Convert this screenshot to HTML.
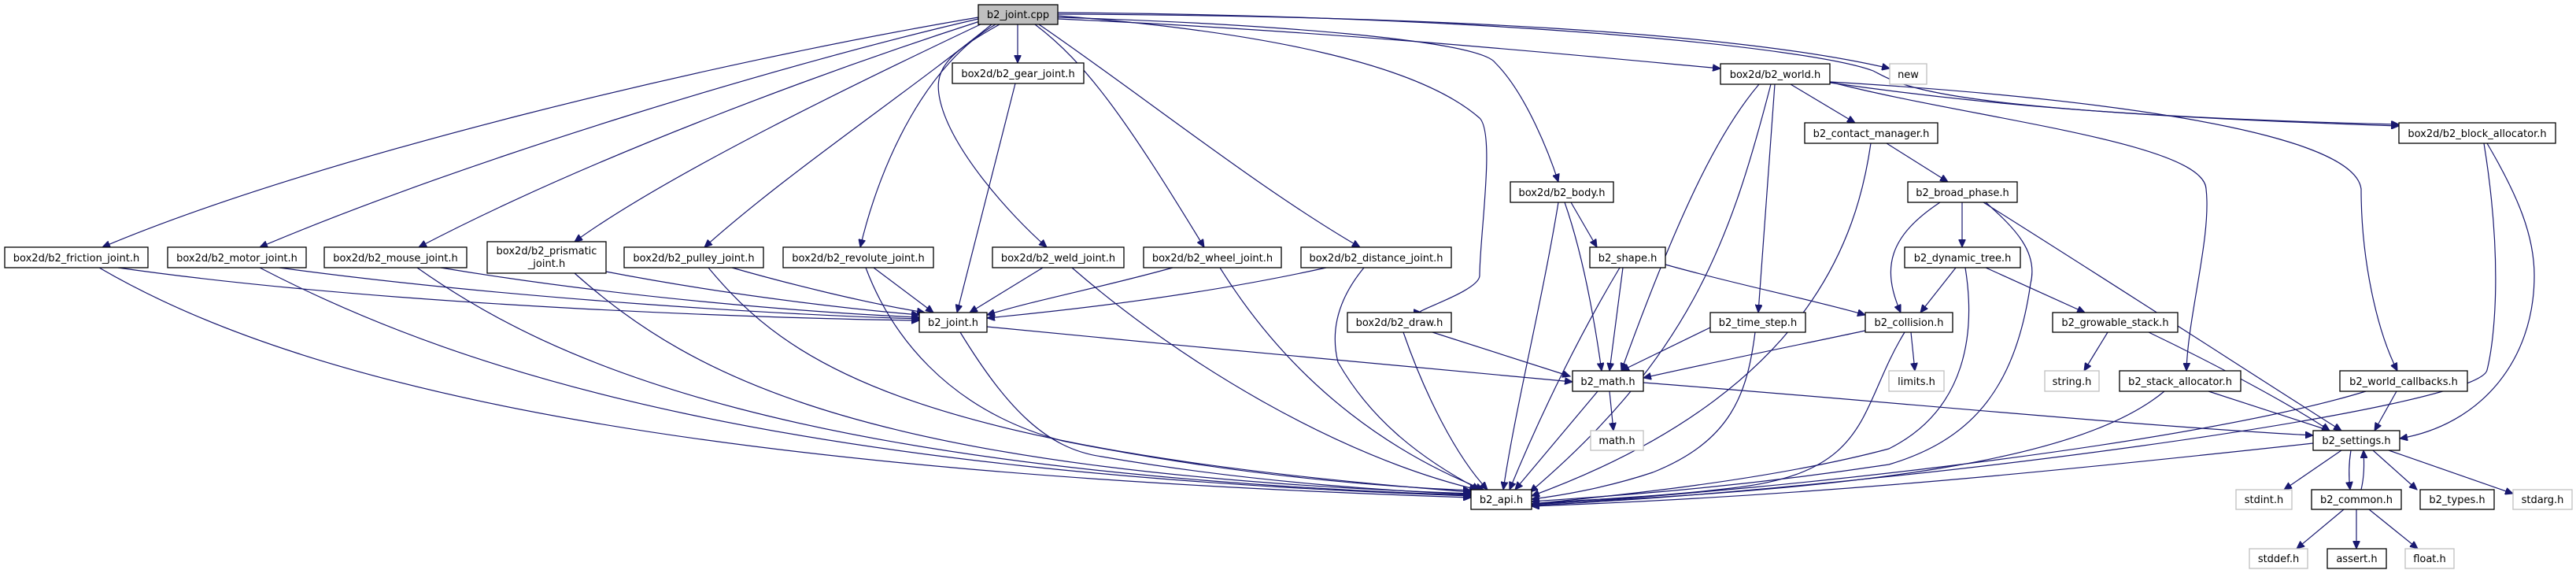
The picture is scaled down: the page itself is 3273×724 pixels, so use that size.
<!DOCTYPE html>
<html><head><meta charset="utf-8"><style>
html,body{margin:0;padding:0;background:#fff;}
svg{display:block;}
text{font-family:"DejaVu Sans","Liberation Sans",sans-serif;font-size:13px;fill:#000;}
.n{fill:#fff;stroke:#000;stroke-width:1.3;}
.g{fill:#fff;stroke:#bfbfbf;stroke-width:1.3;}
.e{fill:none;stroke:#191970;stroke-width:1.2;}
</style></head><body>
<svg width="3273" height="724" viewBox="0 0 3273 724" xmlns="http://www.w3.org/2000/svg">
<defs><marker id="a" markerUnits="userSpaceOnUse" markerWidth="11" markerHeight="9" refX="10" refY="4.5" orient="auto"><path d="M0,0 L10,4.5 L0,9 z" fill="#191970" stroke="#191970"/></marker></defs>
<g class="e" marker-end="url(#a)">
<!-- from cpp -->
<path d="M1243,22 C900,80 400,200 130,314"/>
<path d="M1243,24 C1000,80 600,200 330,314"/>
<path d="M1245,27 C1050,90 750,200 532,314"/>
<path d="M1250,29 C1100,100 850,220 730,307"/>
<path d="M1260,31 C1150,120 1000,220 895,314"/>
<path d="M1265,31 C1180,80 1120,200 1093,314"/>
<path d="M1293,31 L1293,80"/>
<path d="M1270,31 C1200,70 1185,90 1195,130 C1210,190 1280,270 1330,314"/>
<path d="M1315,31 C1380,80 1430,150 1530,314"/>
<path d="M1320,31 C1450,120 1600,240 1728,314"/>
<path d="M1344,20 C1600,40 1800,80 1880,150 C1900,170 1880,300 1880,350 C1880,370 1790,397 1806,397"/>
<path d="M1344,22 C1600,30 1880,50 1900,80 C1940,120 1970,200 1980,231"/>
<path d="M1344,24 C1700,40 2000,70 2186,87"/>
<path d="M1344,18 C1800,20 2200,40 2401,87"/>
<path d="M1344,16 C1900,20 2300,60 2380,90 C2420,110 2450,140 3048,160"/>
<!-- world -->
<path d="M2235,107 C2190,160 2140,250 2060,471"/>
<path d="M2250,107 C2200,300 2150,450 1944,625"/>
<path d="M2255,107 L2234,397"/>
<path d="M2275,107 L2357,156"/>
<path d="M2325,104 C2500,150 2800,180 2803,240 C2810,300 2780,400 2778,471"/>
<path d="M2325,104 C2600,120 2990,160 3000,240 C3000,330 3020,420 3046,471"/>
<path d="M2325,105 C2500,130 2700,150 3048,158"/>
<!-- contact -->
<path d="M2377,182 C2360,300 2300,500 1946,630"/>
<path d="M2397,182 L2475,231"/>
<!-- broad -->
<path d="M2493,257 L2493,314"/>
<path d="M2465,257 C2400,300 2390,340 2415,397"/>
<path d="M2523,257 C2560,290 2590,320 2580,360 C2560,500 2500,560 2400,590 C2200,620 2050,630 1946,637"/>
<path d="M2520,257 C2700,370 2900,500 2975,547"/>
<!-- dyntree -->
<path d="M2485,340 L2440,397"/>
<path d="M2523,340 L2649,397"/>
<path d="M2497,340 C2510,420 2500,520 2400,570 C2250,610 2050,630 1946,640"/>
<!-- collision -->
<path d="M2370,420 C2300,435 2200,455 2088,480"/>
<path d="M2428,422 L2433,471"/>
<path d="M2420,422 C2360,520 2380,600 2200,620 C2100,632 2000,635 1946,640"/>
<!-- growable -->
<path d="M2678,422 L2648,471"/>
<path d="M2730,422 C2830,470 2920,520 2960,547"/>
<!-- stack -->
<path d="M2750,497 C2650,580 2400,620 1946,640"/>
<path d="M2806,497 L2960,547"/>
<!-- callbacks -->
<path d="M3006,497 C2800,560 2300,620 1946,641"/>
<path d="M3045,497 L3017,547"/>
<!-- block -->
<path d="M3156,182 C3180,330 3170,430 3160,470 C3150,520 2400,620 1946,642"/>
<path d="M3160,182 C3200,250 3220,300 3220,350 C3220,460 3150,540 3049,557"/>
<!-- settings -->
<path d="M2939,563 C2600,600 2300,630 1946,643"/>
<path d="M2975,572 L2902,622"/>
<path d="M2987,572 C2984,590 2984,605 2986,622"/>
<path d="M3000,622 C3004,605 3004,590 3003,572"/>
<path d="M3015,572 L3071,622"/>
<path d="M3035,572 L3193,627"/>
<!-- common -->
<path d="M2978,647 L2918,697"/>
<path d="M2994,647 L2994,697"/>
<path d="M3010,647 L3072,697"/>
<!-- math -->
<path d="M2045,497 L2050,547"/>
<path d="M2030,497 L1925,622"/>
<path d="M2088,486 C2400,510 2700,540 2939,553"/>
<!-- shape -->
<path d="M2062,340 L2045,471"/>
<path d="M2058,340 C2010,420 1960,520 1918,622"/>
<path d="M2116,336 C2200,360 2300,380 2370,400"/>
<!-- body -->
<path d="M1996,257 L2029,314"/>
<path d="M1988,257 C2010,320 2025,400 2035,471"/>
<path d="M1980,257 C1960,380 1925,520 1910,622"/>
<!-- draw -->
<path d="M1820,422 L1995,478"/>
<path d="M1783,422 C1810,500 1850,580 1890,622"/>
<!-- time step -->
<path d="M2173,416 L2060,471"/>
<path d="M2230,422 C2220,500 2200,560 2100,600 C2040,620 1980,630 1946,634"/>
<!-- joint.h -->
<path d="M1254,415 C1500,440 1800,465 1998,485"/>
<path d="M1220,422 C1280,520 1330,570 1400,580 C1600,615 1800,625 1869,628"/>
<!-- joint headers -> joint.h -->
<path d="M150,340 C500,390 1000,405 1168,407"/>
<path d="M355,340 C650,380 1000,400 1168,405"/>
<path d="M560,340 C800,380 1050,398 1168,403"/>
<path d="M770,345 C900,370 1050,390 1168,400"/>
<path d="M930,340 C1000,360 1100,385 1175,397"/>
<path d="M1110,340 L1186,397"/>
<path d="M1325,340 L1232,397"/>
<path d="M1490,340 C1400,365 1320,380 1254,400"/>
<path d="M1685,340 C1550,370 1400,390 1254,404"/>
<path d="M1290,106 L1216,397"/>
<!-- joint headers -> api -->
<path d="M126,340 C400,500 900,600 1869,632"/>
<path d="M330,340 C600,480 1000,600 1869,630"/>
<path d="M530,340 C700,460 1000,600 1869,629"/>
<path d="M730,347 C880,480 1100,600 1869,627"/>
<path d="M900,340 C1000,460 1150,570 1869,625"/>
<path d="M1100,340 C1130,420 1200,520 1350,560 C1600,610 1800,620 1869,623"/>
<path d="M1362,340 C1500,460 1700,580 1877,622"/>
<path d="M1550,340 C1650,500 1780,580 1885,622"/>
<path d="M1733,340 C1700,380 1690,420 1700,460 C1740,530 1800,580 1880,622"/>
</g>
<!-- nodes -->
<rect x="1243" y="6" width="101" height="25" fill="#bfbfbf" stroke="#000" stroke-width="1.3"/>
<text x="1293.5" y="23" text-anchor="middle">b2_joint.cpp</text>
<g>
<rect class="n" x="1210" y="80" width="167" height="26"/><text x="1293.5" y="98" text-anchor="middle">box2d/b2_gear_joint.h</text>
<rect class="n" x="2186" y="81" width="139" height="26"/><text x="2255.5" y="99" text-anchor="middle">box2d/b2_world.h</text>
<rect class="g" x="2401" y="81" width="47" height="26"/><text x="2424.5" y="99" text-anchor="middle">new</text>
<rect class="n" x="2293" y="156" width="169" height="26"/><text x="2377.5" y="174" text-anchor="middle">b2_contact_manager.h</text>
<rect class="n" x="3048" y="156" width="199" height="26"/><text x="3147.5" y="174" text-anchor="middle">box2d/b2_block_allocator.h</text>
<rect class="n" x="1919" y="231" width="131" height="26"/><text x="1984.5" y="249" text-anchor="middle">box2d/b2_body.h</text>
<rect class="n" x="2424" y="231" width="139" height="26"/><text x="2493.5" y="249" text-anchor="middle">b2_broad_phase.h</text>
<rect class="n" x="6" y="314" width="182" height="26"/><text x="97" y="332" text-anchor="middle">box2d/b2_friction_joint.h</text>
<rect class="n" x="213" y="314" width="176" height="26"/><text x="301" y="332" text-anchor="middle">box2d/b2_motor_joint.h</text>
<rect class="n" x="412" y="314" width="181" height="26"/><text x="502.5" y="332" text-anchor="middle">box2d/b2_mouse_joint.h</text>
<rect class="n" x="619" y="307" width="151" height="40"/><text x="694.5" y="323" text-anchor="middle">box2d/b2_prismatic</text><text x="694.5" y="339" text-anchor="middle">_joint.h</text>
<rect class="n" x="793" y="314" width="177" height="26"/><text x="881.5" y="332" text-anchor="middle">box2d/b2_pulley_joint.h</text>
<rect class="n" x="995" y="314" width="191" height="26"/><text x="1090.5" y="332" text-anchor="middle">box2d/b2_revolute_joint.h</text>
<rect class="n" x="1261" y="314" width="167" height="26"/><text x="1344.5" y="332" text-anchor="middle">box2d/b2_weld_joint.h</text>
<rect class="n" x="1453" y="314" width="175" height="26"/><text x="1540.5" y="332" text-anchor="middle">box2d/b2_wheel_joint.h</text>
<rect class="n" x="1653" y="314" width="191" height="26"/><text x="1748.5" y="332" text-anchor="middle">box2d/b2_distance_joint.h</text>
<rect class="n" x="2020" y="314" width="96" height="26"/><text x="2068" y="332" text-anchor="middle">b2_shape.h</text>
<rect class="n" x="2420" y="314" width="147" height="26"/><text x="2493.5" y="332" text-anchor="middle">b2_dynamic_tree.h</text>
<rect class="n" x="1168" y="397" width="86" height="25"/><text x="1211" y="414" text-anchor="middle">b2_joint.h</text>
<rect class="n" x="1712" y="397" width="132" height="25"/><text x="1778" y="414" text-anchor="middle">box2d/b2_draw.h</text>
<rect class="n" x="2173" y="397" width="121" height="25"/><text x="2233.5" y="414" text-anchor="middle">b2_time_step.h</text>
<rect class="n" x="2370" y="397" width="111" height="25"/><text x="2425.5" y="414" text-anchor="middle">b2_collision.h</text>
<rect class="n" x="2608" y="397" width="159" height="25"/><text x="2687.5" y="414" text-anchor="middle">b2_growable_stack.h</text>
<rect class="n" x="1998" y="471" width="90" height="26"/><text x="2043" y="489" text-anchor="middle">b2_math.h</text>
<rect class="g" x="2400" y="471" width="70" height="26"/><text x="2435" y="489" text-anchor="middle">limits.h</text>
<rect class="g" x="2598" y="471" width="69" height="26"/><text x="2632.5" y="489" text-anchor="middle">string.h</text>
<rect class="n" x="2693" y="471" width="154" height="26"/><text x="2770" y="489" text-anchor="middle">b2_stack_allocator.h</text>
<rect class="n" x="2973" y="471" width="162" height="26"/><text x="3054" y="489" text-anchor="middle">b2_world_callbacks.h</text>
<rect class="g" x="2021" y="547" width="67" height="25"/><text x="2054.5" y="564" text-anchor="middle">math.h</text>
<rect class="n" x="2939" y="547" width="110" height="25"/><text x="2994" y="564" text-anchor="middle">b2_settings.h</text>
<rect class="n" x="1869" y="622" width="77" height="25"/><text x="1907.5" y="639" text-anchor="middle">b2_api.h</text>
<rect class="g" x="2841" y="622" width="71" height="25"/><text x="2876.5" y="639" text-anchor="middle">stdint.h</text>
<rect class="n" x="2937" y="622" width="114" height="25"/><text x="2994" y="639" text-anchor="middle">b2_common.h</text>
<rect class="n" x="3075" y="622" width="94" height="25"/><text x="3122" y="639" text-anchor="middle">b2_types.h</text>
<rect class="g" x="3193" y="622" width="75" height="25"/><text x="3230.5" y="639" text-anchor="middle">stdarg.h</text>
<rect class="g" x="2858" y="697" width="74" height="25"/><text x="2895" y="714" text-anchor="middle">stddef.h</text>
<rect class="n" x="2957" y="697" width="75" height="25"/><text x="2994.5" y="714" text-anchor="middle">assert.h</text>
<rect class="g" x="3056" y="697" width="62" height="25"/><text x="3087" y="714" text-anchor="middle">float.h</text>
</g>
</svg>
</body></html>
